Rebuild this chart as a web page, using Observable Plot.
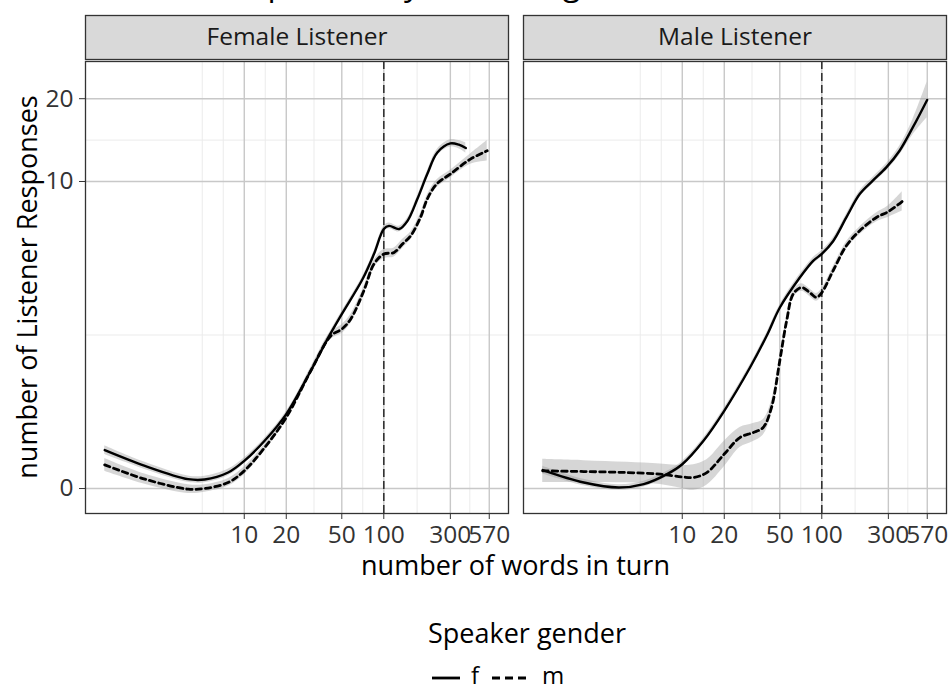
<!DOCTYPE html>
<html><head><meta charset="utf-8">
<script src="https://cdn.jsdelivr.net/npm/d3@7"></script>
<script src="https://cdn.jsdelivr.net/npm/@observablehq/plot@0.6"></script>
<style>
body{margin:0;background:#fff;}
#wrap{position:relative;width:950px;height:687px;overflow:hidden;font-family:"Open Sans",sans-serif;color:#000;background:#fff;}
#chart{position:absolute;left:0;top:0;}
.abs{position:absolute;white-space:nowrap;line-height:1;}
</style></head><body>
<div id="wrap">
  <div id="title" class="abs" style="font-size:32.4px;left:84px;top:-34.5px;">Listener Responses by Turn Length</div>
  <div id="chart"></div>
  <div id="ytitle" class="abs" style="font-size:27px;left:25.5px;top:286.5px;transform:translate(-50%,-50%) rotate(-90deg);">number of Listener Responses</div>
  <div id="xtitle" class="abs" style="font-size:27px;left:515.5px;top:551px;transform:translateX(-50%);">number of words in turn</div>
  <div id="legtitle" class="abs" style="font-size:27px;left:428px;top:619px;">Speaker gender</div>
  <div id="legend"></div>
</div>
<script>
// ---- categories / ticks ----
const listeners = ["Female Listener", "Male Listener"];
const genders = ["f", "m"];
const xTicks = [10, 20, 50, 100, 300, 570];
const yTicks = [0, 10, 20];
const xMinor = [5, 7.07, 14.14, 31.62, 70.71, 173.2, 413.5];
const yMinor = [2.317, 14.2];
const cutoff = [100];

// ---- Female Listener, speaker f ----
const femF_x = [1, 1.94, 3.96, 5.2, 7.66, 10, 14, 20, 30, 40, 50, 70.5, 85, 100, 109, 129, 148, 174, 205, 242, 300, 345, 387];
const femF_y = [0.35, 0.194, 0.076, 0.073, 0.133, 0.241, 0.452, 0.788, 1.509, 2.25, 2.904, 4.135, 5.24, 6.59, 6.78, 6.59, 7.09, 8.59, 10.66, 12.8, 13.81, 13.66, 13.28];
const femF_w = [0.035, 0.028, 0.025, 0.025, 0.025, 0.022, 0.02, 0.02, 0.02, 0.02, 0.02, 0.02, 0.02, 0.022, 0.022, 0.022, 0.022, 0.022, 0.022, 0.025, 0.028, 0.032, 0.04];

// ---- Female Listener, speaker m ----
const femM_x = [1, 1.94, 3.96, 5.2, 7.66, 10, 14, 20, 30, 41.8, 50, 58, 72, 85, 100, 118.6, 136, 156, 183, 205, 240, 300, 418, 551];
const femM_y = [0.203, 0.076, -0.005, 0, 0.048, 0.148, 0.377, 0.742, 1.509, 2.3, 2.473, 2.76, 3.69, 4.77, 5.24, 5.32, 5.75, 6.2, 7.3, 8.6, 9.8, 10.66, 12.1, 12.98];
const femM_w = [0.05, 0.04, 0.035, 0.03, 0.03, 0.03, 0.025, 0.025, 0.025, 0.03, 0.035, 0.035, 0.03, 0.03, 0.035, 0.035, 0.035, 0.03, 0.03, 0.03, 0.03, 0.03, 0.04, 0.08];

// ---- Male Listener, speaker f ----
const malF_x = [1, 1.97, 3.5, 5.3, 7.78, 10, 14.2, 20, 30.6, 40.3, 50.1, 69.6, 86.7, 100, 120.5, 150, 187, 232, 290, 361, 449, 569];
const malF_y = [0.155, 0.048, 0.008, 0.035, 0.119, 0.209, 0.452, 0.835, 1.573, 2.297, 3.112, 4.196, 4.92, 5.25, 5.9, 7.31, 8.97, 10.07, 11.28, 12.99, 15.78, 19.8];
const malF_w = [0.03, 0.025, 0.022, 0.022, 0.022, 0.022, 0.022, 0.022, 0.022, 0.022, 0.022, 0.025, 0.025, 0.025, 0.025, 0.025, 0.025, 0.025, 0.028, 0.035, 0.06, 0.14];

// ---- Male Listener, speaker m ----
const malM_x = [1, 1.97, 4.03, 6.96, 10, 12.05, 15, 20, 25.9, 32.3, 38, 43.6, 50, 56, 62.4, 71.6, 82, 91.6, 100, 120.5, 150, 187, 246, 299, 377];
const malM_y = [0.148, 0.142, 0.133, 0.119, 0.095, 0.09, 0.133, 0.309, 0.489, 0.549, 0.611, 0.883, 1.713, 2.706, 3.568, 3.807, 3.62, 3.45, 3.62, 4.479, 5.659, 6.485, 7.306, 7.688, 8.412];
const malM_w = [0.09, 0.085, 0.08, 0.08, 0.09, 0.1, 0.1, 0.1, 0.078, 0.07, 0.06, 0.05, 0.04, 0.035, 0.03, 0.03, 0.03, 0.03, 0.03, 0.03, 0.03, 0.03, 0.035, 0.045, 0.075];

const series = [
  {listener: listeners[0], gender: genders[0], x: femF_x, y: femF_y, w: femF_w},
  {listener: listeners[0], gender: genders[1], x: femM_x, y: femM_y, w: femM_w},
  {listener: listeners[1], gender: genders[0], x: malF_x, y: malF_y, w: malF_w},
  {listener: listeners[1], gender: genders[1], x: malM_x, y: malM_y, w: malM_w}
];
const rows = series.flatMap(s => s.x.map((x, i) => ({
  listener: s.listener, gender: s.gender, x, y: s.y[i],
  lo: Math.expm1(Math.log1p(s.y[i]) - s.w[i]),
  hi: Math.expm1(Math.log1p(s.y[i]) + s.w[i])
})));

// ---- layout ----
const W = 950, H = 550, mT = 61, mB = H - 513, mL = 84, mR = 3;
const panelH = H - mT - mB;
const stripH = 44, stripGap = 2;
const tickFont = 24.5;
const dashes = {f: null, m: "5.5,4"};

const plot = Plot.plot({
  width: W, height: H,
  marginTop: mT, marginBottom: mB, marginLeft: mL, marginRight: mR,
  style: {fontFamily: "'Open Sans', sans-serif", fontSize: tickFont + "px", color: "#333", background: "transparent", overflow: "visible"},
  facet: {data: rows, x: "listener"},
  fx: {domain: listeners, paddingInner: 0.034, paddingOuter: 0, axis: null, label: null},
  x: {type: "log", domain: [0.728, 783], label: null},
  y: {type: "symlog", constant: 1, domain: [-0.2153, 27.08], ticks: yTicks, tickFormat: d => String(d), tickSize: 6, tickPadding: 6, label: null},
  marks: [
    Plot.frame({fill: "#d9d9d9", stroke: "#333", strokeWidth: 1.3, insetTop: -(stripGap + stripH), insetBottom: panelH + stripGap}),
    Plot.text(rows, Plot.selectFirst({text: "listener", frameAnchor: "top", dy: -(stripGap + stripH / 2), lineAnchor: "middle", fontSize: tickFont, fill: "#1a1a1a"})),
    Plot.ruleX(xMinor, {stroke: "#ebebeb", strokeWidth: 1}),
    Plot.ruleY(yMinor, {stroke: "#ebebeb", strokeWidth: 1}),
    Plot.ruleX(xTicks, {stroke: "#c8c8c8", strokeWidth: 1.4}),
    Plot.ruleY(yTicks, {stroke: "#c8c8c8", strokeWidth: 1.4}),
    Plot.areaY(rows, {x: "x", y1: "lo", y2: "hi", z: "gender", fill: "#999999", fillOpacity: 0.4, curve: "catmull-rom"}),
    Plot.ruleX(cutoff, {stroke: "#333", strokeWidth: 1.6, strokeDasharray: "8,4"}),
    Plot.line(rows, {filter: d => d.gender === "f", x: "x", y: "y", z: "gender", stroke: "#000", strokeWidth: 2.4, curve: "catmull-rom"}),
    Plot.line(rows, {filter: d => d.gender === "m", x: "x", y: "y", z: "gender", stroke: "#000", strokeWidth: 2.8, strokeDasharray: dashes.m, curve: "catmull-rom"}),
    Plot.frame({stroke: "#333", strokeWidth: 1.3}),
    Plot.axisX(xTicks, {text: d => String(d), tickSize: 6, tickPadding: 6, fontSize: tickFont, label: null})
  ]
});
document.getElementById("chart").appendChild(plot);

// ---- legend (below the plot) ----
const leg = d3.select("#legend").style("position", "absolute").style("left", "0px").style("top", "0px");
const keyPos = {f: {x1: 432, x2: 460, tx: 471}, m: {x1: 492, x2: 528, tx: 542}};
const svgL = leg.append("svg").attr("width", 950).attr("height", 687)
  .style("position", "absolute").style("left", "0px").style("top", "0px")
  .style("font-family", "'Open Sans', sans-serif");
genders.forEach(g => {
  const k = keyPos[g];
  svgL.append("line").attr("x1", k.x1).attr("x2", k.x2).attr("y1", 678).attr("y2", 678)
    .attr("stroke", "#000").attr("stroke-width", 2.8)
    .attr("stroke-dasharray", g === "m" ? "8,5" : null);
  svgL.append("text").attr("x", k.tx).attr("y", 684).attr("font-size", 24).attr("fill", "#000").text(g);
});
</script>
</body></html>
